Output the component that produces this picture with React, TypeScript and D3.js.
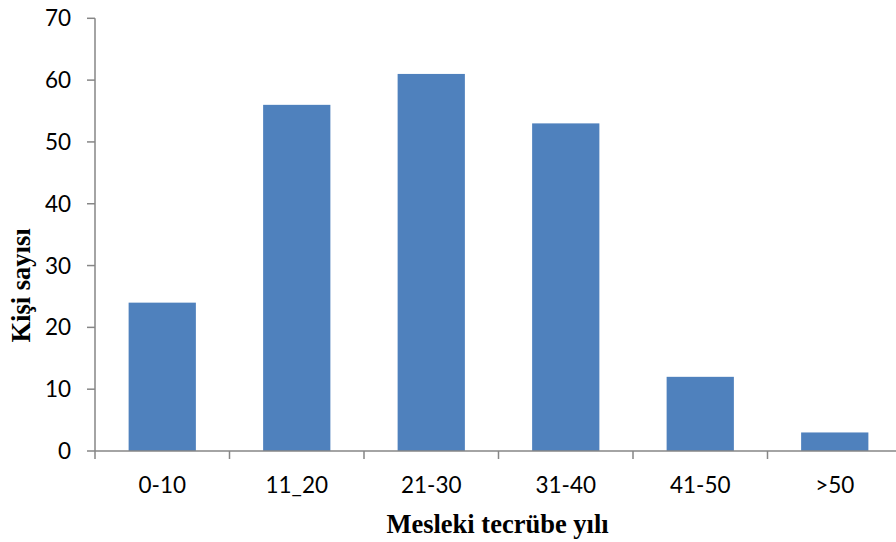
import React from "react";
import * as d3 from "d3";

const categories = ["0-10", "11_20", "21-30", "31-40", "41-50", ">50"];
const values = [24, 56, 61, 53, 12, 3];
const yTicks = [0, 10, 20, 30, 40, 50, 60, 70];
const xTitle = "Mesleki tecrübe yılı";
const yTitle = "Kişi sayısı";

export default function App() {
  const W = 896, H = 542;
  const x0 = 95, x1 = 902, yTop = 18.3, yBot = 451;
  const x = d3.scaleBand<string>().domain(categories).range([x0, x1]).paddingInner(0.5).paddingOuter(0.25);
  const y = d3.scaleLinear().domain([0, 70]).range([yBot, yTop]);
  const step = (x1 - x0) / categories.length;
  const tickFont = "Lato, 'Open Sans', sans-serif";
  const titleFont = "'Liberation Serif', 'Times New Roman', serif";
  return (
    <svg width={W} height={H} style={{ position: "absolute", left: 0, top: 0 }}>
      <rect width={W} height={H} fill="#fff" />
      {categories.map((c, i) => (
        <rect key={c} x={x(c)} y={y(values[i])} width={x.bandwidth()} height={yBot - y(values[i])} fill="#4f81bd" />
      ))}
      <line x1={x0} x2={x0} y1={yTop} y2={yBot} stroke="#868686" strokeWidth={1.5} />
      {yTicks.map(t => (
        <g key={t}>
          <line x1={x0 - 8} x2={x0} y1={y(t)} y2={y(t)} stroke="#868686" strokeWidth={1.5} />
          <text x={x0 - 24} y={y(t)} dy="0.36em" textAnchor="end" fontFamily={tickFont} fontSize={22.5} fill="#000">{t}</text>
        </g>
      ))}
      <line x1={x0} x2={W} y1={yBot} y2={yBot} stroke="#868686" strokeWidth={1.5} />
      {d3.range(categories.length + 1).map(i => (
        <line key={i} x1={x0 + i * step} x2={x0 + i * step} y1={yBot} y2={yBot + 8} stroke="#868686" strokeWidth={1.5} />
      ))}
      {categories.map(c => (
        <text key={c} x={(x(c) as number) + x.bandwidth() / 2} y={493} textAnchor="middle" fontFamily={tickFont} fontSize={22.5} fill="#000">{c}</text>
      ))}
      <text x={497.5} y={533} textAnchor="middle" fontFamily={titleFont} fontWeight="bold" fontSize={26.5} fill="#000">{xTitle}</text>
      <text transform={`translate(30,${285.5}) rotate(-90)`} textAnchor="middle" fontFamily={titleFont} fontWeight="bold" fontSize={26.5} fill="#000">{yTitle}</text>
    </svg>
  );
}
